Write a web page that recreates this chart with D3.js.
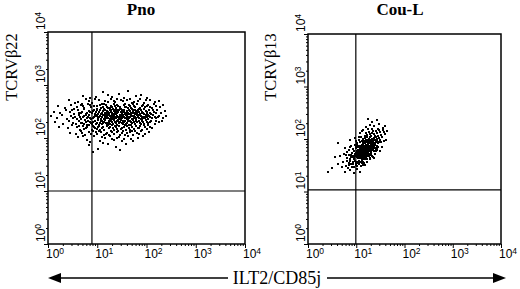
<!DOCTYPE html>
<html><head><meta charset="utf-8">
<script src="https://cdn.jsdelivr.net/npm/d3@7/dist/d3.min.js"></script>
<style>html,body{margin:0;padding:0;background:#fff;}svg{display:block;}</style>
</head><body>
<svg id="chart" width="520" height="289"></svg>
<script>
// ---------- data ----------
const panelTitles = ["Pno", "Cou-L"];
const yAxisTitles = ["TCRV\u03b222", "TCRV\u03b213"];
const xAxisTitle = "ILT2/CD85j";
const decadeExponents = [0, 1, 2, 3, 4];
// quadrant gate positions [x, y] (linear fluorescence units)
const pnoGate = [7.8, 10];
const couGate = [9.8, 10.7];
// events as [log10 x, log10 y]
const pnoEvents = [
[1.12,2.86],[1.45,2.83],[1.78,2.80],[0.98,2.78],[1.62,2.88],[1.30,2.77],[2.02,2.76],[0.72,2.79],[1.88,2.82],[1.21,2.81],[1.55,2.76],[0.85,2.75],
[0.42,2.71],[0.61,2.68],[0.77,2.73],[0.90,2.66],[1.03,2.72],[1.15,2.69],[1.27,2.74],[1.36,2.67],[1.48,2.71],[1.57,2.65],[1.66,2.73],[1.74,2.68],[1.83,2.70],[1.95,2.66],[2.08,2.72],[2.17,2.67],[0.55,2.66],[0.83,2.70],[1.09,2.65],[1.41,2.73],[1.70,2.66],[1.99,2.71],[1.22,2.67],[1.52,2.69],[0.96,2.74],[1.61,2.72],[1.33,2.70],[1.87,2.74],[2.25,2.69],[0.70,2.65],
[0.21,2.60],[0.34,2.57],[0.47,2.63],[0.58,2.59],[0.66,2.62],[0.74,2.56],[0.81,2.64],[0.88,2.58],[0.94,2.61],[1.00,2.55],[1.05,2.63],[1.11,2.59],[1.17,2.62],[1.22,2.56],[1.28,2.60],[1.33,2.64],[1.38,2.57],[1.43,2.61],[1.49,2.55],[1.54,2.63],[1.59,2.58],[1.64,2.62],[1.69,2.56],[1.75,2.60],[1.80,2.64],[1.86,2.57],[1.91,2.61],[1.97,2.59],[2.04,2.63],[2.11,2.56],[2.19,2.61],[2.28,2.58],[2.34,2.62],[0.52,2.55],[0.99,2.60],[1.14,2.65],[1.26,2.56],[1.41,2.63],[1.56,2.59],[1.72,2.64],[1.84,2.55],[2.00,2.60],[1.08,2.57],[1.36,2.61],[1.62,2.57],[1.93,2.63],[0.86,2.62],[1.19,2.58],[1.47,2.59],[1.77,2.58],[2.07,2.59],[0.71,2.60],[1.30,2.58],[1.67,2.60],[2.15,2.64],
[0.12,2.50],[0.25,2.47],[0.36,2.53],[0.44,2.49],[0.53,2.46],[0.60,2.52],[0.67,2.48],[0.73,2.54],[0.78,2.45],[0.83,2.51],[0.89,2.47],[0.93,2.53],[0.98,2.49],[1.02,2.45],[1.06,2.52],[1.10,2.48],[1.14,2.54],[1.18,2.46],[1.22,2.50],[1.26,2.53],[1.30,2.47],[1.34,2.51],[1.38,2.45],[1.42,2.49],[1.46,2.54],[1.50,2.47],[1.54,2.52],[1.58,2.48],[1.62,2.45],[1.66,2.51],[1.70,2.54],[1.74,2.47],[1.78,2.50],[1.82,2.53],[1.86,2.46],[1.90,2.50],[1.95,2.54],[2.00,2.48],[2.05,2.52],[2.10,2.46],[2.16,2.50],[2.22,2.53],[2.29,2.47],[2.37,2.51],[0.70,2.50],[0.86,2.49],[0.96,2.46],[1.04,2.49],[1.12,2.51],[1.20,2.48],[1.28,2.50],[1.36,2.48],[1.44,2.52],[1.52,2.50],[1.60,2.51],[1.68,2.48],[1.76,2.53],[1.84,2.49],[1.92,2.47],[2.02,2.50],[2.13,2.53],[0.91,2.51],[1.08,2.46],[1.24,2.47],[1.40,2.53],[1.56,2.46],[1.72,2.50],[1.88,2.52],[2.07,2.47],[0.80,2.48],[0.63,2.47],[1.16,2.52],[1.32,2.54],[1.48,2.49],[1.64,2.53],[1.80,2.47],[1.98,2.51],[2.19,2.48],[0.48,2.52],[1.00,2.52],
[0.06,2.41],[0.18,2.38],[0.29,2.44],[0.39,2.36],[0.47,2.42],[0.55,2.39],[0.62,2.44],[0.68,2.36],[0.74,2.41],[0.79,2.38],[0.84,2.43],[0.88,2.35],[0.93,2.40],[0.97,2.44],[1.01,2.37],[1.05,2.42],[1.09,2.39],[1.13,2.35],[1.17,2.43],[1.21,2.38],[1.25,2.41],[1.29,2.36],[1.33,2.44],[1.37,2.39],[1.41,2.42],[1.45,2.36],[1.49,2.40],[1.53,2.44],[1.57,2.37],[1.61,2.41],[1.65,2.38],[1.69,2.43],[1.73,2.35],[1.77,2.40],[1.81,2.44],[1.85,2.37],[1.89,2.41],[1.93,2.38],[1.98,2.43],[2.03,2.36],[2.08,2.40],[2.14,2.44],[2.20,2.38],[2.26,2.42],[2.33,2.37],[2.40,2.41],[0.58,2.36],[0.72,2.39],[0.82,2.40],[0.91,2.38],[0.99,2.41],[1.07,2.36],[1.15,2.40],[1.23,2.44],[1.31,2.39],[1.39,2.37],[1.47,2.43],[1.55,2.40],[1.63,2.36],[1.71,2.41],[1.79,2.38],[1.87,2.43],[1.95,2.40],[2.05,2.42],[2.17,2.39],[0.65,2.40],[0.77,2.43],[0.86,2.37],[0.95,2.42],[1.03,2.39],[1.11,2.43],[1.19,2.37],[1.27,2.42],[1.35,2.37],[1.43,2.39],[1.51,2.37],[1.59,2.43],[1.67,2.40],[1.75,2.42],[1.83,2.39],[1.91,2.36],[2.00,2.39],[2.11,2.37],[2.23,2.40],[0.51,2.38],
[0.15,2.30],[0.31,2.27],[0.42,2.33],[0.50,2.29],[0.57,2.26],[0.63,2.32],[0.69,2.28],[0.75,2.34],[0.80,2.25],[0.85,2.31],[0.90,2.27],[0.95,2.33],[1.00,2.29],[1.04,2.25],[1.08,2.32],[1.12,2.28],[1.16,2.34],[1.20,2.26],[1.24,2.30],[1.28,2.33],[1.32,2.27],[1.36,2.31],[1.40,2.25],[1.44,2.29],[1.48,2.34],[1.52,2.27],[1.56,2.32],[1.60,2.28],[1.64,2.25],[1.68,2.31],[1.72,2.34],[1.76,2.27],[1.80,2.30],[1.84,2.33],[1.88,2.26],[1.93,2.30],[1.98,2.34],[2.04,2.28],[2.10,2.32],[2.17,2.26],[2.25,2.30],[2.32,2.33],[0.66,2.29],[0.77,2.30],[0.87,2.28],[0.97,2.26],[1.06,2.29],[1.14,2.31],[1.22,2.28],[1.30,2.30],[1.38,2.28],[1.46,2.31],[1.54,2.30],[1.62,2.32],[1.70,2.28],[1.78,2.32],[1.86,2.29],[1.95,2.27],[2.07,2.30],[2.20,2.33],[0.73,2.26],[0.92,2.31],[1.10,2.26],[1.26,2.27],[1.42,2.33],[1.58,2.26],[1.74,2.30],[1.90,2.32],[2.01,2.31],[0.82,2.33],[1.02,2.34],[1.18,2.29],[1.34,2.34],[1.50,2.29],[1.66,2.33],
[0.22,2.21],[0.40,2.18],[0.49,2.24],[0.58,2.20],[0.65,2.16],[0.71,2.22],[0.77,2.18],[0.83,2.24],[0.89,2.15],[0.94,2.21],[0.99,2.17],[1.04,2.23],[1.09,2.19],[1.14,2.15],[1.19,2.22],[1.24,2.18],[1.29,2.24],[1.34,2.16],[1.39,2.20],[1.44,2.23],[1.49,2.17],[1.54,2.21],[1.59,2.15],[1.64,2.19],[1.69,2.24],[1.74,2.17],[1.79,2.22],[1.85,2.18],[1.91,2.15],[1.97,2.21],[2.04,2.24],[2.12,2.18],[0.62,2.23],[0.80,2.20],[0.96,2.19],[1.11,2.21],[1.26,2.20],[1.41,2.17],[1.56,2.24],[1.71,2.20],[1.87,2.22],[2.00,2.17],[0.74,2.17],[0.91,2.23],[1.06,2.16],[1.21,2.24],[1.36,2.22],[1.51,2.19],[1.66,2.16],[1.82,2.19],[1.94,2.24],[1.01,2.20],[1.31,2.19],[1.61,2.22],[2.08,2.21],
[0.45,2.10],[0.56,2.07],[0.66,2.13],[0.75,2.06],[0.84,2.11],[0.92,2.14],[1.00,2.08],[1.07,2.12],[1.13,2.05],[1.20,2.10],[1.27,2.14],[1.33,2.07],[1.40,2.11],[1.46,2.06],[1.53,2.13],[1.60,2.09],[1.67,2.12],[1.73,2.06],[1.80,2.10],[1.88,2.14],[1.96,2.08],[2.05,2.11],[0.70,2.09],[0.88,2.07],[1.03,2.14],[1.17,2.07],[1.30,2.11],[1.43,2.13],[1.57,2.06],[1.70,2.13],[1.84,2.07],[0.97,2.11],[1.23,2.06],[1.50,2.09],[1.77,2.14],
[0.61,2.01],[0.79,1.97],[0.93,2.03],[1.05,1.95],[1.16,2.00],[1.25,2.04],[1.35,1.96],[1.45,2.02],[1.55,1.98],[1.63,2.04],[1.72,1.94],[1.82,2.00],[0.86,1.93],[1.10,2.02],[1.30,1.99],[1.50,1.94],[1.68,1.99],[1.92,2.03],[0.72,2.04],[1.40,2.00],
[0.83,1.86],[1.02,1.80],[1.21,1.88],[1.38,1.83],[1.58,1.89],[0.91,1.74],[1.47,1.77],[1.12,1.90],
[1.13,2.44],[1.19,2.51],[1.25,2.36],[1.31,2.46],[1.37,2.53],[1.43,2.34],[1.49,2.44],[1.55,2.50],[1.61,2.38],[1.67,2.45],[1.73,2.52],[1.79,2.35],[1.85,2.43],[1.91,2.48],[1.97,2.37],[1.16,2.38],[1.22,2.45],[1.28,2.52],[1.34,2.35],[1.40,2.47],[1.46,2.39],[1.52,2.33],[1.58,2.46],[1.64,2.40],[1.70,2.36],[1.76,2.45],[1.82,2.41],[1.88,2.35],[1.94,2.45],[2.03,2.44],[1.10,2.33],[1.20,2.41],[1.30,2.43],[1.40,2.32],[1.50,2.52],[1.60,2.35],[1.70,2.47],[1.80,2.51],[1.90,2.39],[1.15,2.47],[1.27,2.39],[1.39,2.50],[1.51,2.42],[1.63,2.48],[1.75,2.37],[1.87,2.46],[1.99,2.42],[1.24,2.32],[1.48,2.36],[1.72,2.42]
];
const couEvents = [
[1.33,2.32],[1.55,2.21],[1.28,2.26],[1.42,2.36],[1.20,2.22],[1.48,2.28],[1.36,2.24],[1.60,2.25],[1.25,2.38],[1.45,2.20],
[1.08,2.12],[1.15,2.17],[1.22,2.08],[1.27,2.14],[1.32,2.19],[1.37,2.10],[1.41,2.16],[1.46,2.06],[1.50,2.13],[1.55,2.18],[1.60,2.09],[1.18,2.06],[1.30,2.05],[1.44,2.11],[1.35,2.15],[1.24,2.19],[1.52,2.07],[1.12,2.15],[1.39,2.06],[1.48,2.17],[1.28,2.09],[1.57,2.14],[1.20,2.11],[1.33,2.12],[1.63,2.16],
[0.88,1.98],[0.97,2.02],[1.02,1.93],[1.06,1.99],[1.10,2.04],[1.13,1.91],[1.16,1.96],[1.19,2.01],[1.22,1.94],[1.25,1.99],[1.28,2.03],[1.31,1.92],[1.34,1.97],[1.37,2.02],[1.40,1.95],[1.43,2.00],[1.46,1.93],[1.50,1.98],[1.54,2.03],[1.58,1.96],[1.08,1.95],[1.14,2.00],[1.20,1.97],[1.26,1.93],[1.32,2.00],[1.38,1.98],[1.44,1.96],[1.23,2.03],[1.29,1.96],[1.35,1.94],[1.17,1.93],[1.41,2.04],[1.11,1.97],[1.47,2.01],[1.27,2.00],[1.33,1.95],[1.21,1.99],[1.39,1.92],[0.62,1.92],[1.52,1.94],[1.00,1.97],[1.30,1.98],[1.18,2.04],[1.36,1.99],[1.24,1.96],[1.42,1.97],[1.15,1.94],[1.48,1.95],[1.05,2.03],[1.62,1.99],
[0.76,1.83],[0.84,1.79],[0.90,1.86],[0.95,1.77],[0.99,1.82],[1.02,1.88],[1.05,1.76],[1.08,1.81],[1.11,1.85],[1.14,1.78],[1.17,1.83],[1.20,1.89],[1.23,1.77],[1.26,1.82],[1.29,1.86],[1.32,1.79],[1.35,1.84],[1.38,1.88],[1.41,1.80],[1.45,1.85],[1.49,1.78],[0.93,1.81],[1.00,1.85],[1.04,1.80],[1.07,1.87],[1.10,1.79],[1.13,1.84],[1.16,1.76],[1.19,1.80],[1.22,1.86],[1.25,1.79],[1.28,1.83],[1.31,1.77],[1.34,1.81],[1.37,1.85],[1.40,1.77],[1.43,1.82],[1.12,1.88],[1.18,1.86],[1.24,1.84],[1.30,1.88],[1.36,1.78],[1.06,1.84],[1.01,1.78],[1.15,1.81],[1.21,1.82],[1.27,1.78],[1.33,1.86],[1.09,1.83],[1.03,1.84],[0.97,1.88],[1.39,1.83],[1.26,1.87],[1.14,1.87],[1.20,1.77],[1.32,1.82],[1.08,1.77],[1.17,1.79],[1.23,1.81],[1.29,1.80],[0.87,1.84],[1.44,1.87],[1.11,1.80],[1.35,1.79],[1.19,1.84],[1.25,1.76],[1.05,1.86],[1.42,1.79],[0.80,1.76],[1.53,1.84],
[0.66,1.68],[0.74,1.72],[0.80,1.64],[0.85,1.70],[0.89,1.66],[0.92,1.73],[0.95,1.61],[0.98,1.67],[1.01,1.72],[1.04,1.63],[1.07,1.69],[1.10,1.74],[1.13,1.65],[1.16,1.70],[1.19,1.62],[1.22,1.68],[1.25,1.73],[1.28,1.64],[1.31,1.70],[1.35,1.66],[1.39,1.72],[0.90,1.70],[0.96,1.64],[1.00,1.69],[1.03,1.74],[1.06,1.66],[1.09,1.71],[1.12,1.61],[1.15,1.67],[1.18,1.73],[1.21,1.65],[1.24,1.70],[1.27,1.67],[1.30,1.73],[1.08,1.63],[1.14,1.72],[1.20,1.69],[1.02,1.66],[0.94,1.68],[1.11,1.68],[1.17,1.64],[1.23,1.62],[1.05,1.71],[0.99,1.74],[1.26,1.69],[1.13,1.74],[0.87,1.62],[1.33,1.68],[1.07,1.65],[1.16,1.61],[0.97,1.71],[1.19,1.66],[1.04,1.68],[1.10,1.66],[0.56,1.66],[0.78,1.69],[1.29,1.62],[1.22,1.72],[0.93,1.65],[1.36,1.63],
[0.62,1.52],[0.72,1.57],[0.79,1.49],[0.84,1.55],[0.88,1.59],[0.91,1.47],[0.94,1.53],[0.97,1.58],[1.00,1.50],[1.03,1.55],[1.06,1.59],[1.09,1.48],[1.12,1.54],[1.15,1.57],[1.19,1.51],[1.23,1.56],[0.86,1.51],[0.96,1.46],[1.01,1.57],[1.05,1.52],[1.08,1.56],[0.93,1.56],[1.11,1.59],[0.99,1.54],[0.81,1.58],[1.14,1.50],[0.70,1.47],[1.02,1.48],[0.90,1.53],[1.17,1.55],
[0.41,1.37],[0.77,1.37],[0.87,1.41],[0.95,1.35],[1.02,1.43],[0.82,1.44],[1.08,1.38],[0.50,1.44],
[1.12,1.78],[1.18,1.92],[1.24,1.74],[1.30,1.85],[1.15,1.69],[1.21,1.88],[1.27,1.72],[1.33,1.90],[1.09,1.74],[1.19,1.71],[1.25,1.90],[1.31,1.75],[1.14,1.92],[1.22,1.79],[1.28,1.94],[1.06,1.79],[1.17,1.74],[1.23,1.86],[1.35,1.91],[1.11,1.72],[1.20,1.83],[1.26,1.80],[1.16,1.85],[1.29,1.77],[1.07,1.72],[1.13,1.82],[1.34,1.88],[1.21,1.75],[1.18,1.67],[1.27,1.84]
];

// ---------- drawing ----------
const svg = d3.select("#chart");
const serif = "'Liberation Serif','Times New Roman',Times,serif";
const sans = "'Liberation Sans',Arial,Helvetica,sans-serif";

const panels = [
  {title: panelTitles[0], ytitle: yAxisTitles[0], events: pnoEvents, gate: pnoGate,
   x0: 48, x1: 245, y0: 244, y1: 32, titleX: 141, ytitleX: 17},
  {title: panelTitles[1], ytitle: yAxisTitles[1], events: couEvents, gate: couGate,
   x0: 308, x1: 501, y0: 244, y1: 34, titleX: 400, ytitleX: 276}
];

const minorVals = [];
for (let e = 0; e < 4; e++) for (let m = 1; m < 10; m++) minorVals.push(m * Math.pow(10, e));
minorVals.push(1e4);

panels.forEach(p => {
  const x = d3.scaleLog().domain([1, 1e4]).range([p.x0, p.x1]);
  const y = d3.scaleLog().domain([1, 1e4]).range([p.y0, p.y1]);
  const g = svg.append("g");

  const isMajor = v => Math.abs(Math.log10(v) - Math.round(Math.log10(v))) < 1e-9;
  const xAxis = d3.axisBottom(x).tickValues(minorVals).tickFormat("").tickSizeOuter(0).tickSize(2);
  const xg = g.append("g").attr("transform", `translate(0,${p.y0})`).call(xAxis);
  xg.select(".domain").remove();
  xg.selectAll(".tick line").attr("y2", d => isMajor(d) ? 4 : 2).attr("stroke-width", 1);
  const yAxis = d3.axisLeft(y).tickValues(minorVals).tickFormat("").tickSizeOuter(0).tickSize(2);
  const yg = g.append("g").attr("transform", `translate(${p.x0},0)`).call(yAxis);
  yg.select(".domain").remove();
  yg.selectAll(".tick line").attr("x2", d => isMajor(d) ? -4 : -2).attr("stroke-width", 1);

  // events
  g.append("g").selectAll("rect").data(p.events).join("rect")
    .attr("x", d => Math.round(x(Math.pow(10, d[0]))) - 1)
    .attr("y", d => Math.round(y(Math.pow(10, d[1]))) - 1)
    .attr("width", 2).attr("height", 2).attr("fill", "#000");

  // gates
  g.append("line").attr("x1", x(p.gate[0])).attr("x2", x(p.gate[0]))
    .attr("y1", p.y0).attr("y2", p.y1).attr("stroke", "#000").attr("stroke-width", 1.2);
  g.append("line").attr("x1", p.x0).attr("x2", p.x1)
    .attr("y1", y(p.gate[1])).attr("y2", y(p.gate[1])).attr("stroke", "#000").attr("stroke-width", 1.2);

  // frame
  g.append("rect").attr("x", p.x0).attr("y", p.y1).attr("width", p.x1 - p.x0).attr("height", p.y0 - p.y1)
    .attr("fill", "none").attr("stroke", "#000").attr("stroke-width", 1.5);

  // x tick labels
  decadeExponents.forEach(e => {
    const t = g.append("text").attr("x", x(Math.pow(10, e)) - 2).attr("y", 258)
      .attr("font-family", sans).attr("font-size", 12).attr("fill", "#000");
    t.append("tspan").text("10");
    t.append("tspan").attr("dy", -4.5).attr("font-size", 8.5).text(String(e));
  });
  // y tick labels (rotated)
  decadeExponents.forEach(e => {
    const t = g.append("text").attr("transform", `translate(${p.x0 - 3},${y(Math.pow(10, e)) - 2}) rotate(-90)`)
      .attr("font-family", sans).attr("font-size", 12).attr("fill", "#000");
    t.append("tspan").text("10");
    t.append("tspan").attr("dy", -4.5).attr("font-size", 8.5).text(String(e));
  });

  // title
  g.append("text").attr("x", p.titleX).attr("y", 15).attr("text-anchor", "middle")
    .attr("font-family", serif).attr("font-weight", "bold").attr("font-size", 17).text(p.title);
  // y title
  g.append("text").attr("transform", `translate(${p.ytitleX},67) rotate(-90)`).attr("text-anchor", "middle")
    .attr("font-family", serif).attr("font-size", 16.5).text(p.ytitle);
});

// bottom x-axis title with arrows
const ay = 278;
svg.append("text").attr("x", 277).attr("y", 284).attr("text-anchor", "middle")
  .attr("font-family", serif).attr("font-size", 18).text(xAxisTitle);
svg.append("line").attr("x1", 58).attr("x2", 228).attr("y1", ay).attr("y2", ay).attr("stroke", "#000").attr("stroke-width", 1.3);
svg.append("path").attr("d", `M48,${ay} L61,${ay - 5} L61,${ay + 5} Z`).attr("fill", "#000");
svg.append("line").attr("x1", 327).attr("x2", 495).attr("y1", ay).attr("y2", ay).attr("stroke", "#000").attr("stroke-width", 1.3);
svg.append("path").attr("d", `M506,${ay} L493,${ay - 5} L493,${ay + 5} Z`).attr("fill", "#000");
</script>
</body></html>
